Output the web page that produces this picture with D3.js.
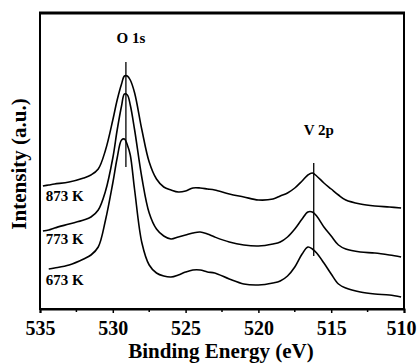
<!DOCTYPE html>
<html>
<head>
<meta charset="utf-8">
<script src="https://cdn.jsdelivr.net/npm/d3@7"></script>
<style>
body { margin: 0; background: #fff; }
svg { display: block; }
</style>
</head>
<body>
<div id="chart"></div>
<script>
// binding energy grid (eV), shared by the three spectra
var energy = [534.8, 534.4, 534, 533, 532, 531.5, 531, 530.5, 530, 529.7, 529.4, 529.2, 529.0, 528.8, 528.5,
	528, 527.5, 527, 526.5, 526, 525.5, 525, 524.5, 524, 523.5, 523, 522, 521, 520, 519,
	518.5, 518, 517.5, 517, 516.6, 516.3, 516, 515.5, 515, 514.5, 514, 513, 512, 511, 510.2];

// intensity (a.u., stacked as plotted)
var int873 = [123, 124, 125, 127, 131, 134, 140, 159, 189, 209, 225, 233, 233, 229, 216,
	179, 147, 130, 122, 119, 117, 118, 121, 121, 120, 119, 115, 112, 109, 110,
	113, 116, 121, 128, 134, 136, 133, 126, 120, 114, 109, 105, 103, 102, 101];
var int773 = [78, 79, 81, 85, 89, 92, 99, 118, 151, 179, 203, 215, 214, 204, 179,
	131, 96, 80, 73, 70, 72, 74, 76, 77, 75, 72, 67, 64, 63, 65,
	67, 72, 80, 90, 97, 97, 93, 82, 73, 64, 60, 57, 56, 54, 52];
var int673 = [null, 40, 41, 44, 50, 54, 62, 89, 126, 151, 169, 170, 164, 154, 119,
	66, 44, 36, 33, 32, 34, 37, 39, 39, 37, 36, 30, 25, 24, 26,
	28, 33, 42, 55, 62, 60, 56, 46, 35, 25, 21, 17, 15, 14, 12];

var seriesNames = ["873 K", "773 K", "673 K"];
var seriesValues = [int873, int773, int673];
var labelAt = [534.6, 534.6, 534.6];
var labelValue = [108, 65, 24];

var xTicks = [535, 530, 525, 520, 515, 510];
var xMinor = [532.5, 527.5, 522.5, 517.5, 512.5];

// peak markers: label, energy, line top/bottom, label height
var peakNames = ["O 1s", "V 2p"];
var peakEnergy = [529.1, 516.2];
var peakTop = [247, 146];
var peakBottom = [142, 53];
var peakLabelValue = [266, 174];

var W = 418, H = 363;
var margin = {left: 40, right: 14, top: 13, bottom: 54};
var serif = "'Liberation Serif', 'Times New Roman', 'DejaVu Serif', serif";

var svg = d3.select("#chart").append("svg").attr("width", W).attr("height", H);

var x = d3.scaleLinear().domain([535, 510]).range([margin.left, W - margin.right]);
var y = d3.scaleLinear().domain([0, 296]).range([H - margin.bottom, margin.top]);

var line = d3.line()
	.defined(function(d) { return d[1] != null; })
	.x(function(d) { return x(d[0]); })
	.y(function(d) { return y(d[1]); })
	.curve(d3.curveCatmullRom.alpha(0.5));

var plot = svg.append("g");

seriesValues.forEach(function(vals, i) {
	var pts = energy.map(function(e, j) { return [e, vals[j]]; });
	plot.append("path").datum(pts).attr("d", line)
		.attr("fill", "none").attr("stroke", "#000").attr("stroke-width", 1.6)
		.attr("stroke-linejoin", "round");

	plot.append("text").attr("x", x(labelAt[i])).attr("y", y(labelValue[i]))
		.attr("font-family", serif).attr("font-weight", "bold").attr("font-size", "15px")
		.text(seriesNames[i]);
});

peakNames.forEach(function(name, i) {
	plot.append("line").attr("x1", x(peakEnergy[i])).attr("x2", x(peakEnergy[i]))
		.attr("y1", y(peakTop[i])).attr("y2", y(peakBottom[i]))
		.attr("stroke", "#000").attr("stroke-width", 1.3);
	plot.append("text").attr("x", x(peakEnergy[i]) + 5).attr("y", y(peakLabelValue[i]))
		.attr("text-anchor", "middle")
		.attr("font-family", serif).attr("font-weight", "bold").attr("font-size", "15px")
		.text(name);
});

// frame
svg.append("rect").attr("x", margin.left).attr("y", margin.top)
	.attr("width", W - margin.left - margin.right).attr("height", H - margin.top - margin.bottom)
	.attr("fill", "none").attr("stroke", "#000").attr("stroke-width", 2);
svg.append("line").attr("x1", margin.left - 1).attr("x2", W - margin.right + 1)
	.attr("y1", margin.top).attr("y2", margin.top)
	.attr("stroke", "#000").attr("stroke-width", 3);

var xAxis = svg.append("g").attr("transform", "translate(0," + (H - margin.bottom) + ")")
	.call(d3.axisBottom(x).tickValues(xTicks).tickSize(4).tickFormat(d3.format("d")));
xAxis.select(".domain").attr("stroke-width", 2);
xAxis.selectAll(".tick line").attr("stroke-width", 1.5);
xAxis.selectAll("text").attr("y", 26).attr("dy", 0)
	.attr("font-family", serif).attr("font-weight", "bold").attr("font-size", "20px").attr("fill", "#000");
// keep the last label inside the window
xAxis.selectAll(".tick").filter(function(d) { return d === 510; }).select("text")
	.attr("text-anchor", "end").attr("x", 12);

xAxis.selectAll(".minor").data(xMinor).enter().append("line").attr("class", "minor")
	.attr("x1", function(d) { return x(d); }).attr("x2", function(d) { return x(d); })
	.attr("y1", 0).attr("y2", 3).attr("stroke", "#000").attr("stroke-width", 1.5);

svg.append("text").attr("x", 221).attr("y", 358).attr("text-anchor", "middle")
	.attr("font-family", serif).attr("font-weight", "bold").attr("font-size", "21px")
	.text("Binding Energy (eV)");

svg.append("text").attr("transform", "translate(26,164) rotate(-90)").attr("text-anchor", "middle")
	.attr("font-family", serif).attr("font-weight", "bold").attr("font-size", "21px")
	.text("Intensity (a.u.)");
</script>
</body>
</html>
